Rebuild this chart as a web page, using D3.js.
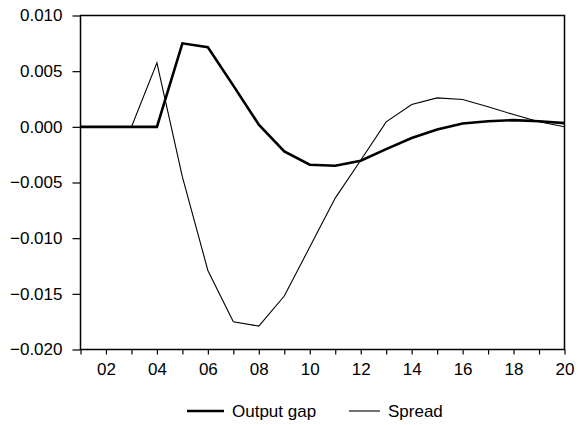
<!DOCTYPE html>
<html>
<head>
<meta charset="utf-8">
<script src="https://cdn.jsdelivr.net/npm/d3@7"></script>
<style>
  body { margin: 0; background: #fff; }
  text { font-family: Arial, "Liberation Sans", sans-serif; fill: #000; }
</style>
</head>
<body>
<div id="plot_area"></div>
<script>
// data
var periods = d3.range(1, 21);
var outputGap = [0, 0, 0, 0, 0.0075, 0.00715, 0.0037, 0.0002, -0.0022, -0.0034,
                 -0.0035, -0.00305, -0.0020, -0.0010, -0.00023, 0.0003, 0.0005, 0.0006, 0.0005, 0.00033];
var spread = [0, 0, 0, 0.00575, -0.0045, -0.0129, -0.0175, -0.0179, -0.0152, -0.0108,
              -0.0064, -0.0030, 0.00045, 0.0020, 0.0026, 0.00246, 0.0018, 0.0011, 0.00045, 0.0];
var yTicks = [0.010, 0.005, 0.000, -0.005, -0.010, -0.015, -0.020];
var legendNames = ["Output gap", "Spread"];

// set the dimensions and margins of the graph
var W = 578, H = 425;
var margin = {top: 15.5, right: 13.5, bottom: 75.5, left: 80.5},
    width = W - margin.left - margin.right,
    height = H - margin.top - margin.bottom;

var svg = d3.select("#plot_area")
  .append("svg")
    .attr("width", W)
    .attr("height", H)
  .append("g")
    .attr("transform", "translate(" + margin.left + "," + margin.top + ")");

var x = d3.scaleLinear().domain([1, 20]).range([0, width]);
var y = d3.scaleLinear().domain([-0.020, 0.010]).range([height, 0]);

// frame
svg.append("rect")
  .attr("x", 0).attr("y", 0)
  .attr("width", width).attr("height", height)
  .attr("fill", "none")
  .attr("stroke", "#000")
  .attr("stroke-width", 1.5);

// Y axis
var yAxis = svg.append("g")
  .call(d3.axisLeft(y).tickValues(yTicks).tickSize(8).tickPadding(10)
    .tickFormat(d3.format(".3f")));
yAxis.select(".domain").remove();
yAxis.selectAll(".tick line").attr("stroke", "#000").attr("stroke-width", 1.2);
yAxis.selectAll(".tick text").style("font-size", "17px").attr("font-family", null);

// X axis
var xAxis = svg.append("g")
  .attr("transform", "translate(0," + height + ")")
  .call(d3.axisBottom(x).tickValues(periods).tickSize(5).tickPadding(8)
    .tickFormat(function(d) { return d % 2 === 0 ? d3.format("02d")(d) : ""; }));
xAxis.select(".domain").remove();
xAxis.selectAll(".tick line").attr("stroke", "#000").attr("stroke-width", 1.2);
xAxis.selectAll(".tick text").style("font-size", "17px").attr("font-family", null);

// lines
var line = function(vals) {
  return d3.line()
    .x(function(d, i) { return x(periods[i]); })
    .y(function(d) { return y(d); })(vals);
};

svg.append("path")
  .attr("d", line(spread))
  .attr("fill", "none")
  .attr("stroke", "#000")
  .attr("stroke-width", 1.1);

svg.append("path")
  .attr("d", line(outputGap))
  .attr("fill", "none")
  .attr("stroke", "#000")
  .attr("stroke-width", 2.6)
  .attr("stroke-linejoin", "miter");

// legend
var legend = d3.select("svg").append("g");
var legendItems = [
  {name: legendNames[0], x0: 187, x1: 224, w: 2.6},
  {name: legendNames[1], x0: 349, x1: 380, w: 1.1}
];
legendItems.forEach(function(d) {
  legend.append("line")
    .attr("x1", d.x0).attr("x2", d.x1)
    .attr("y1", 411).attr("y2", 411)
    .attr("stroke", "#000")
    .attr("stroke-width", d.w);
  legend.append("text")
    .attr("x", d.x1 + 8)
    .attr("y", 417)
    .style("font-size", "17px")
    .text(d.name);
});
</script>
</body>
</html>
